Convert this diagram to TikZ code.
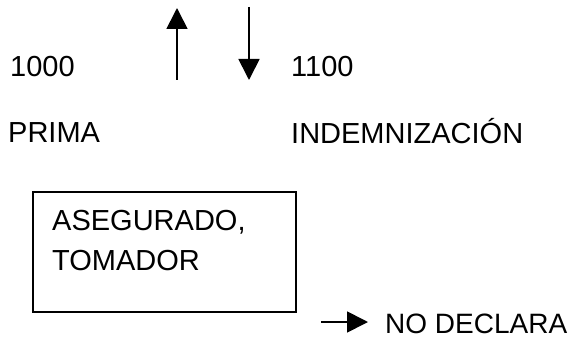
\documentclass[tikz,border=0pt]{standalone}
\usepackage{fontspec}
\setmainfont{Liberation Sans}
\usetikzlibrary{arrows.meta}
\tikzset{
  lbl/.style={anchor=base west, inner sep=0pt, font=\fontsize{29}{40}\selectfont},
  arr/.style={line width=1.7pt, -{Triangle[length=21pt,width=21pt]}},
  boxed/.style={draw, line width=1.7pt}
}
\begin{document}
\begin{tikzpicture}[x=1pt,y=-1pt]
\useasboundingbox (0,0) rectangle (580,342);
\node[lbl] (n1000) at (10,77) {1000};
\node[lbl] (n1100) at (291,77) {1100};
\node[lbl] (prima) at (8,142) {PRIMA};
\node[lbl] (indem) at (291,143) {INDEMNIZACIÓN};
\coordinate (upS) at (177,80);
\coordinate (upE) at (177,8);
\coordinate (dnS) at (249,7);
\coordinate (dnE) at (249,80);
\draw[arr] (upS) -- (upE);
\draw[arr] (dnS) -- (dnE);
\draw[boxed] (33,192) rectangle (296,312);
\node[lbl] (aseg) at (52,230) {ASEGURADO,};
\node[lbl] (tom) at (52,270) {TOMADOR};
\coordinate (rS) at (321,322);
\node[lbl, font=\fontsize{28}{40}\selectfont] (nodecl) at (385,333) {NO DECLARA};
\coordinate (rE) at (368,322);
\draw[arr] (rS) -- (rE);
\end{tikzpicture}
\end{document}
